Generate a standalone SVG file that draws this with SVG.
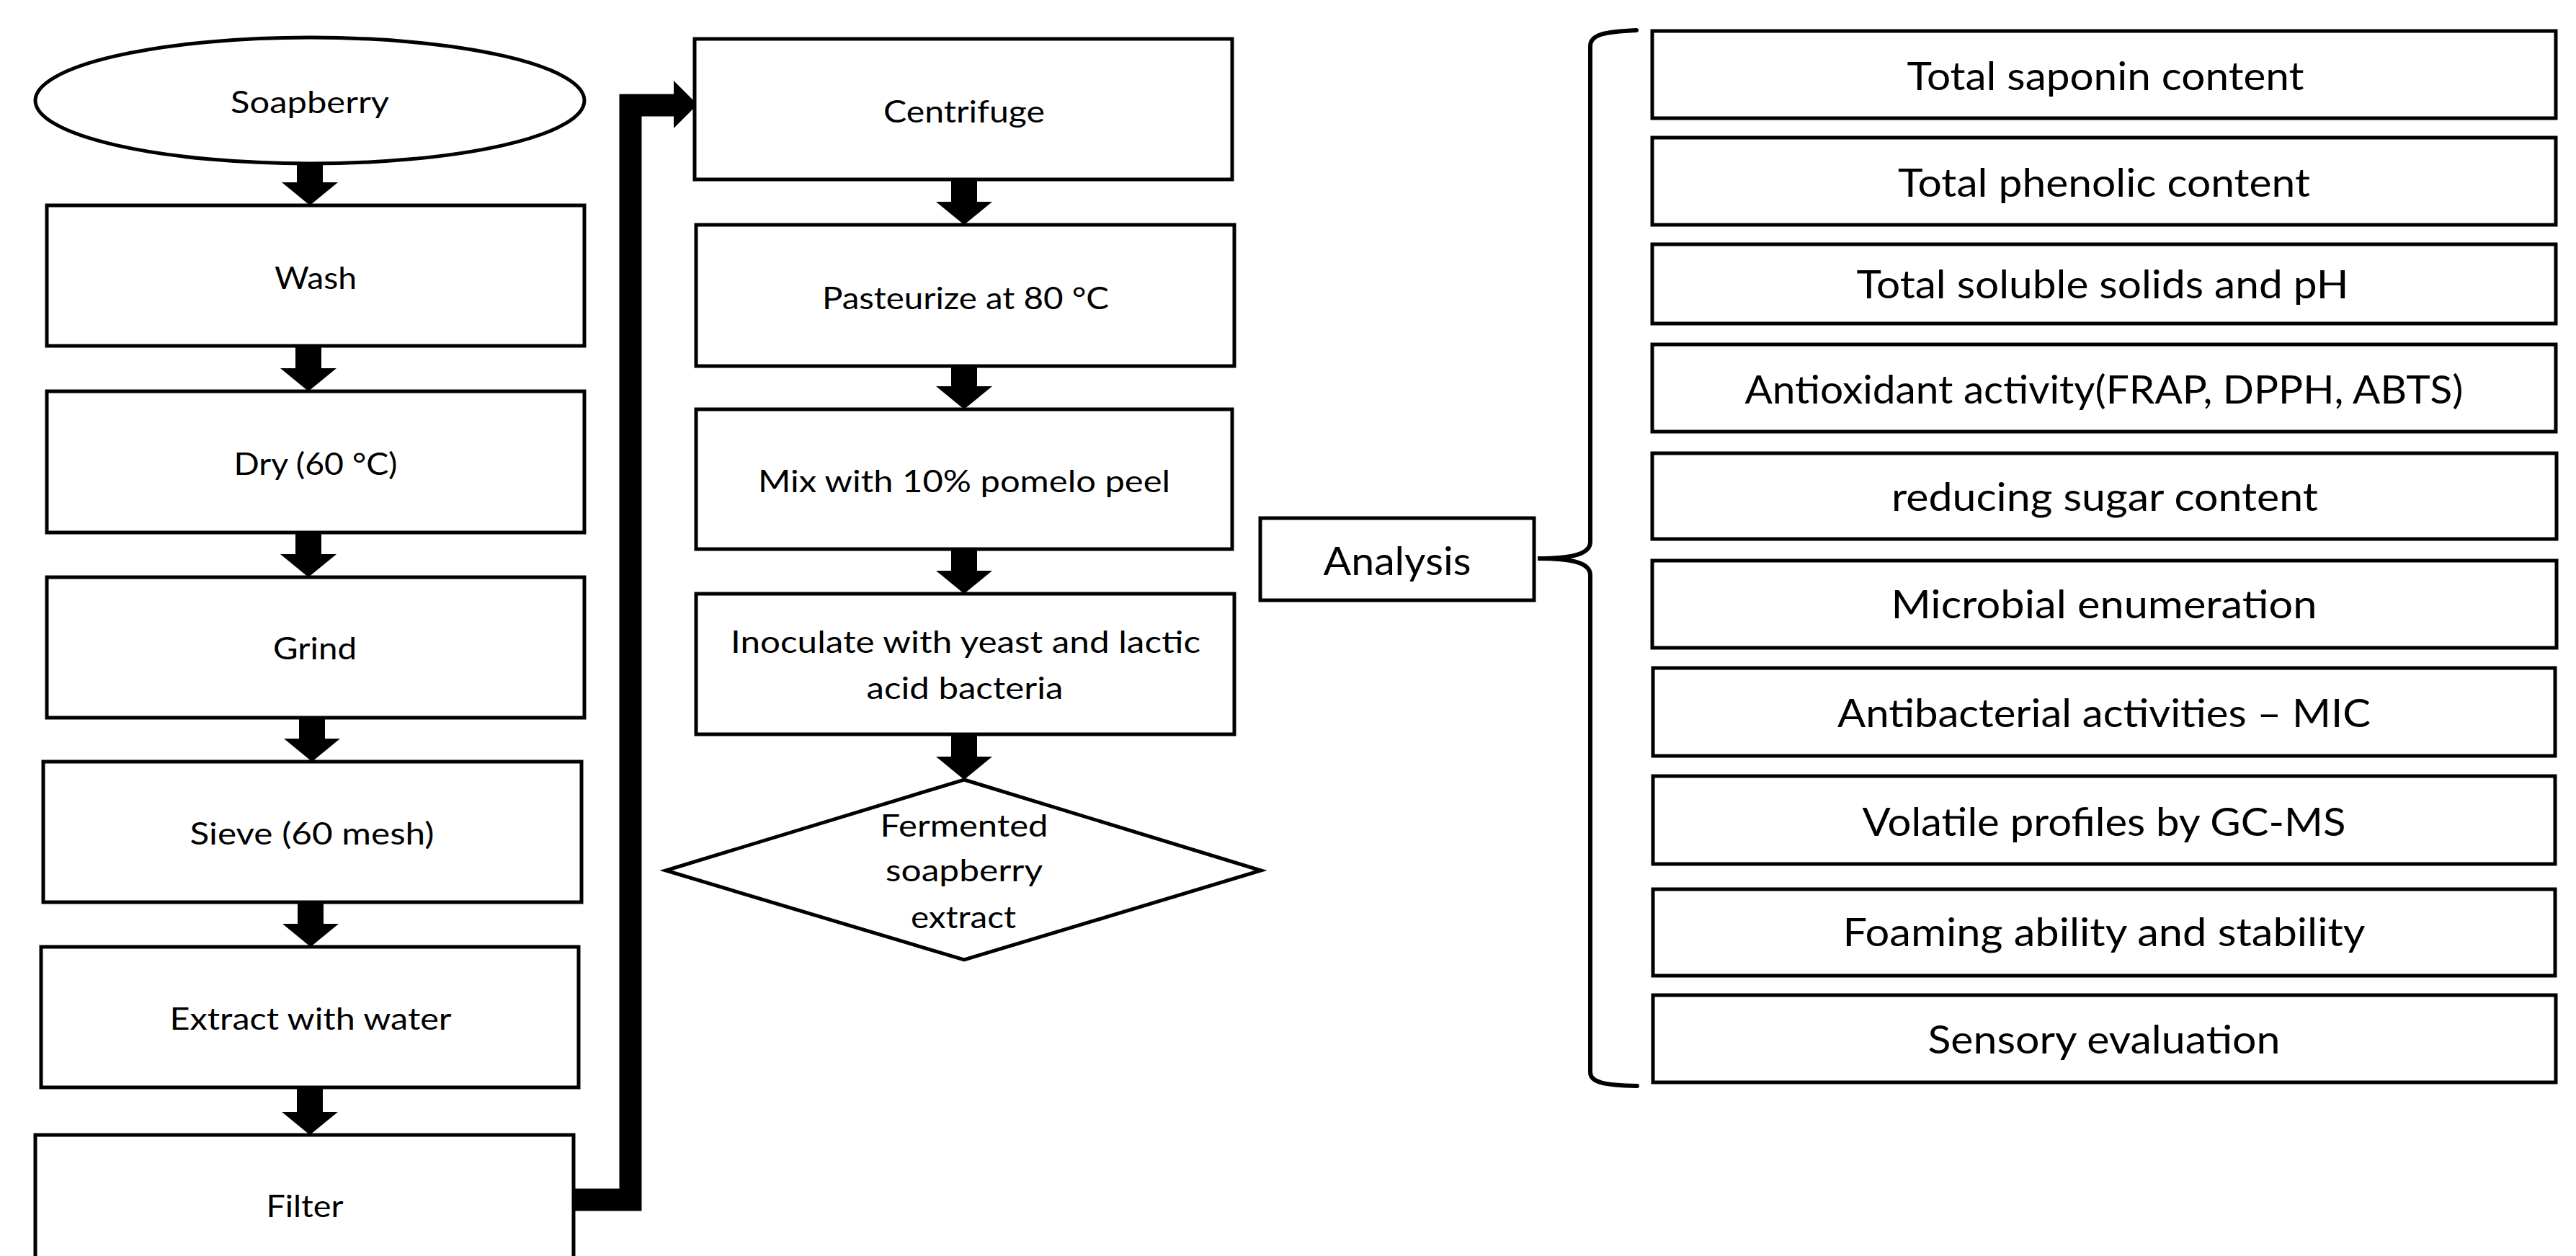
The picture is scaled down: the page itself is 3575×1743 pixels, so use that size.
<svg xmlns="http://www.w3.org/2000/svg" xmlns:xlink="http://www.w3.org/1999/xlink" width="3575" height="1743" viewBox="0 0 3575 1743">
  <style>
    .box { fill: #fff; stroke: #000; stroke-width: 5; stroke-linejoin: miter; }
    .lbl { font-family: Lato, "Liberation Sans", sans-serif; fill: #000; text-anchor: middle; }
    .s43 { font-size: 43px; }
    .s54 { font-size: 54px; }
    .flow { fill: #000; }
    .loop { fill: none; stroke: #000; stroke-width: 31; stroke-linejoin: miter; }
    .brace { fill: none; stroke: #000; stroke-width: 6; stroke-linecap: round; }
  </style>
  <defs>
    <!-- thick block arrow pointing down, tip at the origin -->
    <path id="dn" d="M-18,-64 H18 V-32 H39 L0,0 L-39,-32 H-18 Z"/>
  </defs>
  <rect width="3575" height="1743" fill="#fff"/>

  <!-- connectors -->
  <g id="connectors" class="flow">
    <use xlink:href="#dn" x="430" y="285"/>
    <use xlink:href="#dn" x="428" y="543"/>
    <use xlink:href="#dn" x="428" y="801"/>
    <use xlink:href="#dn" x="433" y="1057"/>
    <use xlink:href="#dn" x="431" y="1314"/>
    <use xlink:href="#dn" x="430" y="1575"/>
    <use xlink:href="#dn" x="1338" y="312"/>
    <use xlink:href="#dn" x="1338" y="568"/>
    <use xlink:href="#dn" x="1338" y="824"/>
    <use xlink:href="#dn" x="1338" y="1082"/>
    <!-- Filter to Centrifuge -->
    <path class="loop" d="M790,1665 H875 V146 H937"/>
    <polygon points="935,112 968,145 935,178"/>
    <!-- brace grouping the analyses -->
    <path class="brace" d="M2271,42 C2226,44 2207,48 2207,64 V752 C2207,769 2182,775 2134,775 C2182,775 2207,781 2207,798 V1488 C2207,1502 2226,1506 2272,1507"/>
  </g>

  <!-- process steps -->
  <g id="n-soapberry">
    <ellipse class="box" cx="430" cy="139.5" rx="381" ry="87.5"/>
    <text class="lbl s43" x="430" y="157" textLength="220" lengthAdjust="spacingAndGlyphs">Soapberry</text>
  </g>
  <g id="n-wash">
    <rect class="box" x="65" y="285" width="746" height="195"/>
    <text class="lbl s43" x="438" y="401" textLength="114" lengthAdjust="spacingAndGlyphs">Wash</text>
  </g>
  <g id="n-dry">
    <rect class="box" x="65" y="543" width="746" height="196"/>
    <text class="lbl s43" x="438" y="659" textLength="227" lengthAdjust="spacingAndGlyphs">Dry (60 °C)</text>
  </g>
  <g id="n-grind">
    <rect class="box" x="65" y="801" width="746" height="195"/>
    <text class="lbl s43" x="437" y="915" textLength="116" lengthAdjust="spacingAndGlyphs">Grind</text>
  </g>
  <g id="n-sieve">
    <rect class="box" x="60" y="1057" width="747" height="195"/>
    <text class="lbl s43" x="433" y="1172" textLength="339" lengthAdjust="spacingAndGlyphs">Sieve (60 mesh)</text>
  </g>
  <g id="n-extract">
    <rect class="box" x="57" y="1314" width="746" height="195"/>
    <text class="lbl s43" x="431" y="1429" textLength="391" lengthAdjust="spacingAndGlyphs">Extract with water</text>
  </g>
  <g id="n-filter">
    <rect class="box" x="49" y="1575" width="747" height="200"/>
    <text class="lbl s43" x="423" y="1689" textLength="107" lengthAdjust="spacingAndGlyphs">Filter</text>
  </g>
  <g id="n-centrifuge">
    <rect class="box" x="964" y="54" width="746" height="195"/>
    <text class="lbl s43" x="1338" y="170" textLength="224" lengthAdjust="spacingAndGlyphs">Centrifuge</text>
  </g>
  <g id="n-pasteurize">
    <rect class="box" x="966" y="312" width="747" height="196"/>
    <text class="lbl s43" x="1340" y="429" textLength="398" lengthAdjust="spacingAndGlyphs">Pasteurize at 80 °C</text>
  </g>
  <g id="n-mix">
    <rect class="box" x="966" y="568" width="744" height="194"/>
    <text class="lbl s43" x="1338" y="683" textLength="572" lengthAdjust="spacingAndGlyphs">Mix with 10% pomelo peel</text>
  </g>
  <g id="n-inoculate">
    <rect class="box" x="966" y="824" width="747" height="195"/>
    <text class="lbl s43" x="1340" y="906" textLength="652" lengthAdjust="spacingAndGlyphs">Inoculate with yeast and lactic</text>
    <text class="lbl s43" x="1339" y="970" textLength="273" lengthAdjust="spacingAndGlyphs">acid bacteria</text>
  </g>
  <g id="n-product">
    <polygon class="box" points="1338,1082 1750,1208 1338,1332 924,1208"/>
    <text class="lbl s43" x="1338" y="1161" textLength="233" lengthAdjust="spacingAndGlyphs">Fermented</text>
    <text class="lbl s43" x="1338" y="1223" textLength="218" lengthAdjust="spacingAndGlyphs">soapberry</text>
    <text class="lbl s43" x="1337" y="1288" textLength="146" lengthAdjust="spacingAndGlyphs">extract</text>
  </g>

  <!-- analyses -->
  <g id="n-analysis">
    <rect class="box" x="1749" y="719" width="380" height="114"/>
    <text class="lbl s54" x="1939" y="798" textLength="205" lengthAdjust="spacingAndGlyphs">Analysis</text>
  </g>
  <g id="a-saponin">
    <rect class="box" x="2293" y="43" width="1254" height="121"/>
    <text class="lbl s54" x="2922" y="125" textLength="551" lengthAdjust="spacingAndGlyphs">Total saponin content</text>
  </g>
  <g id="a-phenolic">
    <rect class="box" x="2293" y="191" width="1254" height="121"/>
    <text class="lbl s54" x="2920" y="273" textLength="572" lengthAdjust="spacingAndGlyphs">Total phenolic content</text>
  </g>
  <g id="a-solids">
    <rect class="box" x="2293" y="339" width="1254" height="110"/>
    <text class="lbl s54" x="2918" y="414" textLength="683" lengthAdjust="spacingAndGlyphs">Total soluble solids and pH</text>
  </g>
  <g id="a-antioxidant">
    <rect class="box" x="2293" y="478" width="1254" height="121"/>
    <text class="lbl s54" x="2920" y="560" textLength="997" lengthAdjust="spacingAndGlyphs">Antioxidant activity(FRAP, DPPH, ABTS)</text>
  </g>
  <g id="a-sugar">
    <rect class="box" x="2293" y="629" width="1255" height="119"/>
    <text class="lbl s54" x="2921" y="709" textLength="592" lengthAdjust="spacingAndGlyphs">reducing sugar content</text>
  </g>
  <g id="a-microbial">
    <rect class="box" x="2293" y="778" width="1255" height="121"/>
    <text class="lbl s54" x="2920" y="858" textLength="591" lengthAdjust="spacingAndGlyphs">Microbial enumeration</text>
  </g>
  <g id="a-antibacterial">
    <rect class="box" x="2294" y="927" width="1252" height="122"/>
    <text class="lbl s54" x="2920" y="1009" textLength="740" lengthAdjust="spacingAndGlyphs">Antibacterial activities – MIC</text>
  </g>
  <g id="a-volatile">
    <rect class="box" x="2294" y="1077" width="1252" height="122"/>
    <text class="lbl s54" x="2920" y="1160" textLength="671" lengthAdjust="spacingAndGlyphs">Volatile profiles by GC-MS</text>
  </g>
  <g id="a-foaming">
    <rect class="box" x="2294" y="1234" width="1252" height="120"/>
    <text class="lbl s54" x="2920" y="1313" textLength="725" lengthAdjust="spacingAndGlyphs">Foaming ability and stability</text>
  </g>
  <g id="a-sensory">
    <rect class="box" x="2294" y="1381" width="1253" height="121"/>
    <text class="lbl s54" x="2920" y="1462" textLength="489" lengthAdjust="spacingAndGlyphs">Sensory evaluation</text>
  </g>
</svg>
